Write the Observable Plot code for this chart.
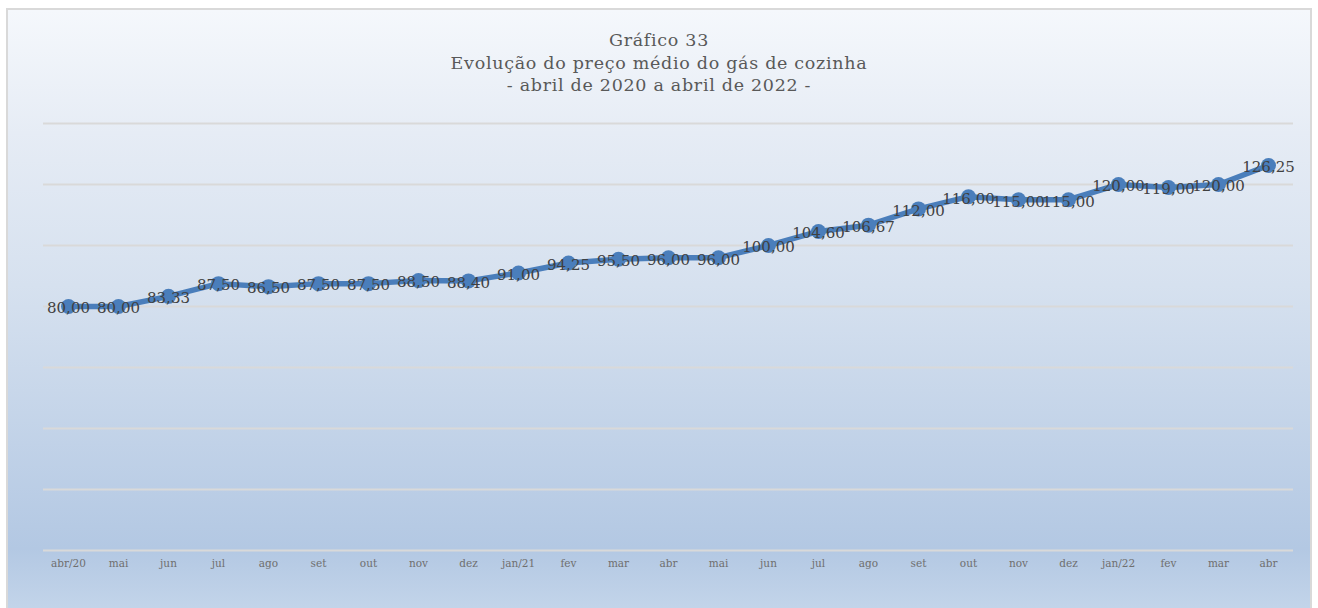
<!DOCTYPE html>
<html>
<head>
<meta charset="utf-8">
<script src="https://cdn.jsdelivr.net/npm/d3@7"></script>
<script src="https://cdn.jsdelivr.net/npm/@observablehq/plot@0.6"></script>
<style>
  html, body { margin: 0; padding: 0; width: 1318px; height: 608px; overflow: hidden; background: #ffffff; }
  #frame {
    position: absolute; left: 6px; top: 8px; width: 1302px; height: 612px;
    border: 2px solid #d9d9d9;
    background: linear-gradient(to bottom, #f5f8fc 0%, #e6ecf5 20%, #d6e1ef 45%, #b3c8e3 88%, #c6d7eb 100%);
  }
  #title {
    position: absolute; left: 0; top: 29px; width: 1318px; text-align: center;
    font-family: "DejaVu Serif", serif; font-size: 17.5px; letter-spacing: 0.7px; line-height: 22.5px; color: #595959;
  }
  #chart { position: absolute; left: 0; top: 0; }
</style>
</head>
<body>
<div id="frame"></div>
<div id="title">Gráfico 33<br>Evolução do preço médio do gás de cozinha<br>- abril de 2020 a abril de 2022 -</div>
<div id="chart"></div>
<script>
const months = ["abr/20","mai","jun","jul","ago","set","out","nov","dez","jan/21","fev","mar","abr","mai ","jun ","jul ","ago ","set ","out ","nov ","dez ","jan/22","fev ","mar ","abr "];
const prices = [80.00, 80.00, 83.33, 87.50, 86.50, 87.50, 87.50, 88.50, 88.40, 91.00, 94.25, 95.50, 96.00, 96.00, 100.00, 104.60, 106.67, 112.00, 116.00, 115.00, 115.00, 120.00, 119.00, 120.00, 126.25];
const gridValues = [0, 20, 40, 60, 80, 100, 120, 140];

const data = months.map((m, i) => ({month: m, price: prices[i]}));
const fmt = v => v.toFixed(2).replace(".", ",");

const chart = Plot.plot({
  width: 1318,
  height: 608,
  marginLeft: 43,
  marginRight: 25,
  marginTop: 123,
  marginBottom: 58,
  style: {background: "transparent", fontFamily: "DejaVu Serif, serif"},
  x: {type: "band", domain: months, padding: 0, label: null, tickSize: 0, tickPadding: 9, tickFormat: d => d.trim()},
  y: {domain: [0, 140], axis: null},
  marks: [
    Plot.ruleY(gridValues, {stroke: "#d9d9d9", strokeWidth: 2}),
    Plot.axisX({tickSize: 0, tickPadding: 9, fontSize: 10.5, fill: "#6f6f6f", tickFormat: d => d.trim(), label: null}),
    Plot.line(data, {x: "month", y: "price", stroke: "#4a7ebb", strokeWidth: 5.5}),
    Plot.dot(data, {x: "month", y: "price", r: 7.5, fill: "#4a7ebb", stroke: "none"}),
    Plot.text(data, {x: "month", y: "price", text: d => fmt(d.price), dy: 2, fontSize: 15, fill: "#404040", fontFamily: "DejaVu Serif, serif"})
  ]
});
document.getElementById("chart").appendChild(chart);
</script>
</body>
</html>
